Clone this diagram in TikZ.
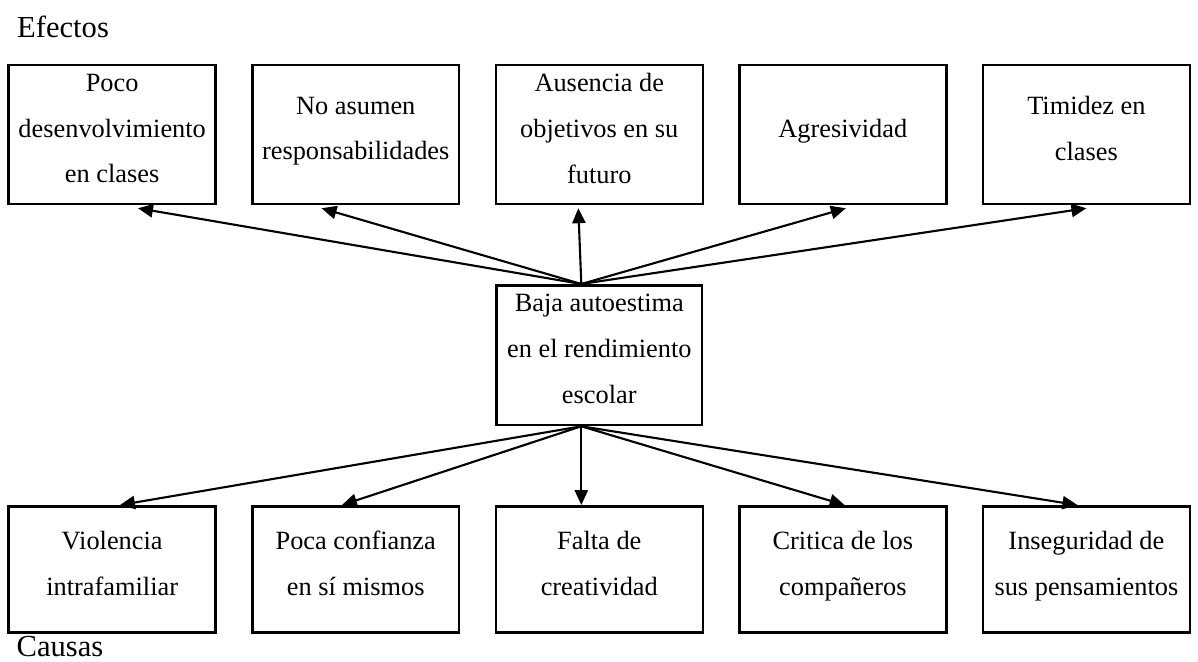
\documentclass[tikz,border=0pt]{standalone}
\usepackage{fontspec}
\setmainfont{Liberation Serif}
\usepackage{tikz}
\usetikzlibrary{shapes,arrows.meta}

\begin{document}
\begin{tikzpicture}[node distance=4.06cm,>={Triangle[length=0.25cm,width=0.22cm]}]
    \tikzstyle{efecto}=[rectangle,draw,line width=1.2pt,minimum width=3.45cm,minimum height=2.32cm,align=center,text depth=0.2cm,font=\fontsize{12.5}{21.8}\selectfont]
    \tikzstyle{causa}=[efecto,minimum height=2.1cm]
    \tikzstyle{titulo}=[anchor=base west,inner sep=0pt,font=\fontsize{14.5}{16}\selectfont]
    \tikzstyle{flecha}=[->,line width=1pt]

    \useasboundingbox (0,0) rectangle (19.97,-11.03);

    \node(tef) [titulo] at (0.28,-0.62) {Efectos};
    \node(tca) [titulo] at (0.27,-10.95) {Causas};

    \node(e1) [efecto] at (1.87,-2.24) {Poco\\desenvolvimiento\\en clases};
    \node(e2) [efecto,right of=e1] {No asumen\\responsabilidades};
    \node(e3) [efecto,right of=e2] {Ausencia de\\objetivos en su\\futuro};
    \node(e4) [efecto,right of=e3] {Agresividad};
    \node(e5) [efecto,right of=e4] {Timidez en\\clases};

    \node(core) [efecto,below of=e3,node distance=3.68cm,minimum width=3.42cm,minimum height=2.33cm] {Baja autoestima\\en el rendimiento\\escolar};

    \node(c3) [causa,below of=core,node distance=3.57cm] {Falta de\\creatividad};
    \node(c2) [causa,left of=c3] {Poca confianza\\en sí mismos};
    \node(c1) [causa,left of=c2] {Violencia\\intrafamiliar};
    \node(c4) [causa,right of=c3] {Critica de los\\compañeros};
    \node(c5) [causa,right of=c4] {Inseguridad de\\sus pensamientos};

    \draw [flecha] ([xshift=-0.3cm]core.north) -- ([xshift=0.43cm,yshift=-0.05cm]e1.south);
    \draw [flecha] ([xshift=-0.3cm]core.north) -- ([xshift=-0.57cm,yshift=-0.05cm]e2.south);
    \draw [flecha] ([xshift=-0.3cm]core.north) -- ([xshift=-0.35cm,yshift=-0.05cm]e3.south);
    \draw [flecha] ([xshift=-0.3cm]core.north) -- ([xshift=0.05cm,yshift=-0.05cm]e4.south);
    \draw [flecha] ([xshift=-0.3cm]core.north) -- ([xshift=0.0cm,yshift=-0.05cm]e5.south);

    \draw [flecha] ([xshift=-0.3cm]core.south) -- ([xshift=0.13cm]c1.north);
    \draw [flecha] ([xshift=-0.3cm]core.south) -- ([xshift=-0.23cm]c2.north);
    \draw [flecha] ([xshift=-0.3cm]core.south) -- ([xshift=-0.3cm]c3.north);
    \draw [flecha] ([xshift=-0.3cm]core.south) -- ([xshift=0.03cm]c4.north);
    \draw [flecha] ([xshift=-0.3cm]core.south) -- ([xshift=-0.15cm]c5.north);

\end{tikzpicture}
\end{document}
